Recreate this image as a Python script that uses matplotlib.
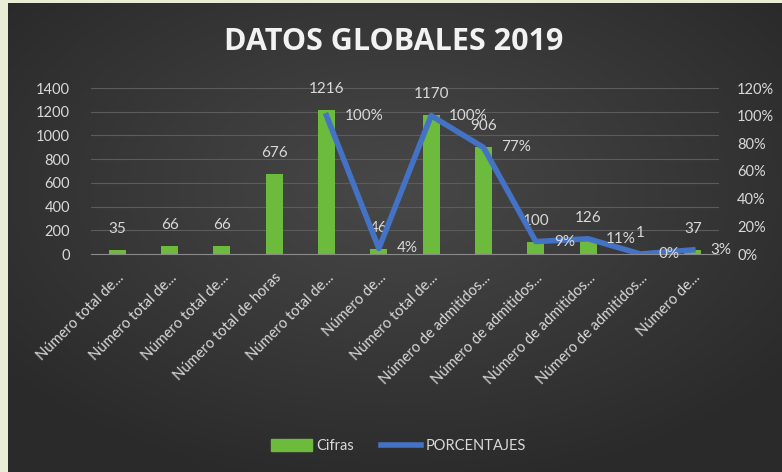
import numpy as np
import matplotlib.pyplot as plt
from matplotlib.ticker import PercentFormatter, MultipleLocator

plt.rcParams['font.family'] = ['Lato', 'DejaVu Sans']

# Datos
categorias = ['Número total de...', 'Número total de...', 'Número total de...',
              'Número total de horas', 'Número total de...', 'Número de...',
              'Número total de...', 'Número de admitidos...', 'Número de admitidos...',
              'Número de admitidos...', 'Número de admitidos...', 'Número de...']
cifras = [35, 66, 66, 676, 1216, 46, 1170, 906, 100, 126, 1, 37]
porcentajes = [np.nan, np.nan, np.nan, np.nan, 1.00, 0.04, 1.00, 0.77, 0.09, 0.11, 0.00, 0.03]

texto = '#d9d9d9'
verde = '#6cbb3c'
azul = '#4472c4'

fig = plt.figure(figsize=(7.82, 4.72), dpi=100)
fig.patch.set_facecolor('#e9edd6')

# fondo oscuro con degradado
bg = fig.add_axes([8 / 782, 0, 1 - 8 / 782, 1 - 3 / 472])
yy, xx = np.mgrid[-1:1:200j, -1:1:300j]
r = np.sqrt(xx ** 2 + (yy + 0.2) ** 2)
bg.imshow(r, cmap=plt.matplotlib.colors.LinearSegmentedColormap.from_list(
    'fondo', ['#484848', '#2a2a2a']), aspect='auto', extent=[0, 1, 0, 1], vmin=0, vmax=1.3)
bg.axis('off')

ax = fig.add_axes([91 / 782, 1 - 254 / 472, (719 - 91) / 782, (254 - 88) / 472])
ax.patch.set_alpha(0)
ax2 = ax.twinx()

x = np.arange(len(categorias))
ax.bar(x, cifras, width=0.33, color=verde, zorder=2)
ax.set_xlim(-0.5, len(categorias) - 0.5)
ax.set_ylim(0, 1400)
ax.yaxis.set_major_locator(MultipleLocator(200))
ax.grid(axis='y', color='#5c5c5c', lw=0.8, zorder=0)
ax.set_axisbelow(True)

ax2.plot(x, porcentajes, color=azul, lw=4, solid_joinstyle='round', zorder=3)
ax2.set_ylim(0, 1.2)
ax2.yaxis.set_major_locator(MultipleLocator(0.2))
ax2.yaxis.set_major_formatter(PercentFormatter(1.0, decimals=0))

for a in (ax, ax2):
    for s in a.spines.values():
        s.set_visible(False)
    a.tick_params(length=0, colors=texto, labelsize=10.5)
ax.spines['bottom'].set_visible(True)
ax.spines['bottom'].set_color('#8a8a8a')
ax.tick_params(axis='y', pad=15)
ax2.tick_params(axis='y', pad=13)

ax.set_xticks(x)
ax.set_xticklabels(categorias, rotation=45, ha='right', rotation_mode='anchor', fontsize=10.5)
ax.tick_params(axis='x', pad=12)

# etiquetas de datos
for xi, v in zip(x, cifras):
    ax.annotate(str(v), (xi, v), xytext=(0, 21), textcoords='offset pixels',
                ha='center', va='center', color=texto, fontsize=11, zorder=5)
for xi, p in zip(x, porcentajes):
    if np.isnan(p):
        continue
    ax2.annotate(f'{p:.0%}', (xi, p), xytext=(18, 0), textcoords='offset pixels',
                 ha='left', va='center', color=texto, fontsize=11, zorder=5)

fig.text(0.503, 1 - 42 / 472, 'DATOS GLOBALES 2019', ha='center', va='center',
         color='#f2f2f2', fontsize=22, fontweight='bold', family=['Open Sans', 'DejaVu Sans'])

h1 = plt.Rectangle((0, 0), 1, 1, color=verde)
h2 = plt.Line2D([], [], color=azul, lw=4)
fig.legend([h1, h2], ['Cifras', 'PORCENTAJES'], loc='center', ncol=2,
           bbox_to_anchor=(0.51, 1 - 446 / 472), frameon=False, fontsize=10.5,
           labelcolor=texto, handlelength=2.8, handleheight=0.9,
           handletextpad=0.3, columnspacing=1.8)

fig.savefig('out.png', dpi=100, facecolor=fig.get_facecolor())
